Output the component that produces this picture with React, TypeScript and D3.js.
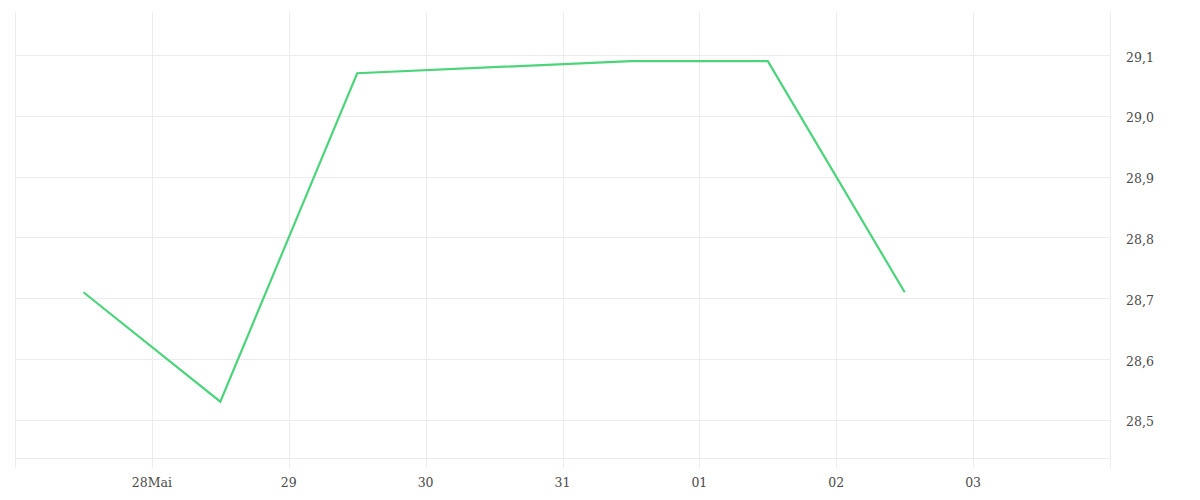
import React from "react";
import * as d3 from "d3";

const dates: string[] = [
  "2024-05-27T12:00",
  "2024-05-28T12:00",
  "2024-05-29T12:00",
  "2024-05-31T12:00",
  "2024-06-01T12:00",
  "2024-06-02T12:00",
];
const values: number[] = [28.71, 28.53, 29.07, 29.09, 29.09, 28.71];
const xTicks: string[] = ["2024-05-28", "2024-05-29", "2024-05-30", "2024-05-31", "2024-06-01", "2024-06-02", "2024-06-03"];
const xTickLabels: string[] = ["28Mai", "29", "30", "31", "01", "02", "03"];
const yTicks: number[] = [28.5, 28.6, 28.7, 28.8, 28.9, 29.0, 29.1];

const W = 1200;
const H = 500;
const parse = (s: string) => new Date(s.length > 10 ? s : s + "T00:00");

export default function App() {
  const x = d3
    .scaleTime()
    .domain([parse("2024-05-27"), parse("2024-06-04")])
    .range([15, 1110]);
  const y = d3.scaleLinear().domain([28.4375, 29.1707]).range([458, 12]);
  const pts = dates.map((d, i) => [x(parse(d)), y(values[i])] as [number, number]);
  const line = d3.line()(pts) || "";
  const grid = "#ececec";
  const fmt = (v: number) => v.toFixed(1).replace(".", ",");
  return (
    <svg
      width={W}
      height={H}
      style={{ position: "absolute", left: 0, top: 0, display: "block" }}
      fontFamily="'DejaVu Serif', serif"
    >
      <rect width={W} height={H} fill="#fff" />
      {yTicks.map((t) => (
        <line key={"h" + t} x1={15} x2={1110} y1={Math.round(y(t)) + 0.5} y2={Math.round(y(t)) + 0.5} stroke={grid} />
      ))}
      <line x1={15} x2={1110} y1={458.5} y2={458.5} stroke={grid} />
      <line x1={15.5} x2={15.5} y1={12} y2={468} stroke={grid} />
      <line x1={1110.5} x2={1110.5} y1={12} y2={468} stroke={grid} />
      {xTicks.map((t) => {
        const xx = Math.round(x(parse(t))) + 0.5;
        return <line key={"v" + t} x1={xx} x2={xx} y1={12} y2={468} stroke={grid} />;
      })}
      <path d={line} fill="none" stroke="#4cd47b" strokeWidth={2.2} strokeLinejoin="miter" />
      {xTicks.map((t, i) => (
        <text key={"xl" + t} x={x(parse(t))} y={487} textAnchor="middle" fontSize={12.5} fill="#4a4a4a">
          {xTickLabels[i]}
        </text>
      ))}
      {yTicks.map((t) => (
        <text key={"yl" + t} x={1126} y={y(t) + 6.5} fontSize={12.5} fill="#4a4a4a">
          {fmt(t)}
        </text>
      ))}
    </svg>
  );
}
